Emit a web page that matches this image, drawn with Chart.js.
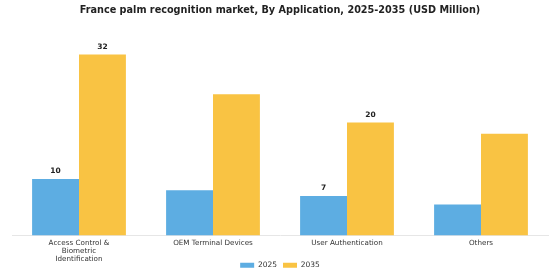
<!DOCTYPE html>
<html>
<head>
<meta charset="utf-8">
<script src="https://cdn.jsdelivr.net/npm/chart.js@4/dist/chart.umd.min.js"></script>
<style>
  html, body { margin: 0; padding: 0; background: #fff; }
  #wrap { width: 560px; height: 280px; }
</style>
</head>
<body>
<div id="wrap"><canvas id="chart"></canvas></div>
<script>
const categories = [['Access Control &', 'Biometric', 'Identification'], 'OEM Terminal Devices', 'User Authentication', 'Others'];
const values2025 = [10, 8, 7, 5.5];
const values2035 = [32, 25, 20, 18];
// which bars carry a value label
const shownLabels = [true, false, true, false];

const valueLabels = {
    id: 'valueLabels',
    beforeDraw(chart) {
        // let the 3-line category label spill past the short x axis box
        chart.scales.x._computeLabelArea = () => undefined;
    },
    afterDatasetsDraw(chart) {
        const ctx = chart.ctx;
        ctx.save();
        ctx.font = 'bold 7.5px "DejaVu Sans"';
        ctx.fillStyle = '#222';
        ctx.textAlign = 'center';
        ctx.textBaseline = 'bottom';
        chart.data.datasets.forEach((ds, i) => {
            chart.getDatasetMeta(i).data.forEach((bar, j) => {
                if (!shownLabels[j]) return;
                ctx.fillText(ds.data[j], bar.x, bar.y - 4);
            });
        });
        ctx.restore();
    }
};

new Chart(document.getElementById('chart').getContext('2d'), {
    type: 'bar',
    data: {
        labels: categories,
        datasets: [{
            label: '2025',
            data: values2025,
            backgroundColor: '#5DADE2',
            categoryPercentage: 0.7,
            barPercentage: 1.0
        }, {
            label: '2035',
            data: values2035,
            backgroundColor: '#F9C343',
            categoryPercentage: 0.7,
            barPercentage: 1.0
        }]
    },
    options: {
        responsive: true,
        maintainAspectRatio: false,
        animation: false,
        layout: { padding: { left: 12, right: 12, top: 0, bottom: 1 } },
        plugins: {
            title: {
                display: true,
                text: 'France palm recognition market, By Application, 2025-2035 (USD Million)',
                font: { family: 'DejaVu Sans', size: 9.7, weight: 'bold' },
                color: '#222',
                padding: { top: 5, bottom: 21 }
            },
            legend: {
                position: 'bottom',
                labels: {
                    font: { family: 'DejaVu Sans', size: 7.5 },
                    color: '#333',
                    boxWidth: 14,
                    boxHeight: 5,
                    padding: 6
                }
            },
            tooltip: { enabled: false }
        },
        scales: {
            x: {
                grid: { display: false, drawTicks: false },
                border: { display: true, color: '#e6e6e6' },
                ticks: {
                    font: { family: 'DejaVu Sans', size: 7.2, lineHeight: 1.11 },
                    color: '#333',
                    maxRotation: 0,
                    autoSkip: false,
                    padding: 4
                },
                // labels may run into the legend band, the legend sits between them
                afterFit(scale) { scale.height = 20; }
            },
            y: {
                display: false,
                min: 0,
                max: 35
            }
        }
    },
    plugins: [valueLabels]
});
</script>
</body>
</html>
